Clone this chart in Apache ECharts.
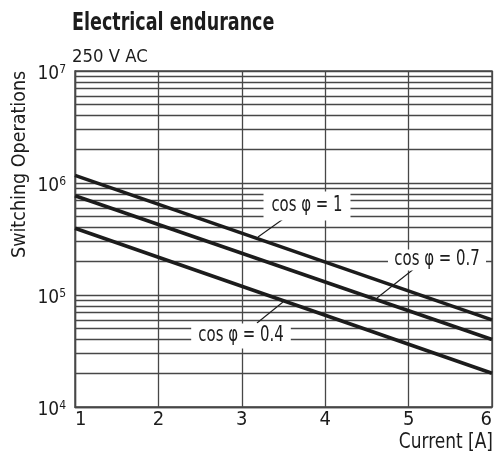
<!DOCTYPE html>
<html>
<head>
<meta charset="utf-8">
<script src="https://cdn.jsdelivr.net/npm/echarts@6/dist/echarts.min.js"></script>
<style>
html,body{margin:0;padding:0;background:#fff;}
#chart{width:496px;height:459px;}
</style>
</head>
<body>
<div id="chart"></div>
<script>
// ---- data ----
var titleText = 'Electrical endurance';
var subtitleText = '250 V AC';
var xAxisName = 'Current [A]';
var yAxisName = 'Switching Operations';
var xTicks = [1, 2, 3, 4, 5, 6];
var seriesNames = ['cos φ = 1', 'cos φ = 0.7', 'cos φ = 0.4'];
var currentA = [1, 6];
var opsCos10 = [1.17e6, 6.0e4];
var opsCos07 = [7.7e5, 4.0e4];
var opsCos04 = [3.95e5, 2.0e4];
var yTickValues = [1e4, 1e5, 1e6, 1e7];
var minorMantissas = [2, 3, 4, 5, 6, 7, 8, 9];
var decades = [1e4, 1e5, 1e6];

var FONT = "'DejaVu Sans Condensed','DejaVu Sans',sans-serif";
var GRID = '#474747';
var INK = '#1c1c1c';

function pairs(xs, ys) { return xs.map(function (x, i) { return [x, ys[i]]; }); }

var minorLines = [];
decades.forEach(function (d) {
  minorMantissas.forEach(function (m) { minorLines.push({ yAxis: m * d }); });
});

var chart = echarts.init(document.getElementById('chart'), null, { renderer: 'canvas' });

function annot(text, x, y, pad) {
  return { type: 'text', z: 60, x: x, y: y, scaleX: 0.79,
    style: { text: text, fontFamily: FONT, fontSize: 21, fill: INK, align: 'center', verticalAlign: 'middle',
      backgroundColor: '#fff', padding: pad } };
}

var option = {
  backgroundColor: '#fff',
  animation: false,
  grid: {
    left: 75, right: 4, top: 71, bottom: 52,
    show: true, borderColor: GRID, borderWidth: 1.4, backgroundColor: 'transparent'
  },
  xAxis: {
    type: 'value', min: 1, max: 6, interval: 1,
    axisLine: { show: true, lineStyle: { color: GRID, width: 1.4 } },
    axisTick: { show: false },
    axisLabel: {
      fontFamily: FONT, fontSize: 20, color: INK, margin: 3,
      alignMinLabel: 'left', alignMaxLabel: 'right',
      customValues: xTicks
    },
    splitLine: { show: true, lineStyle: { color: GRID, width: 1.3 } }
  },
  yAxis: {
    type: 'log', logBase: 10, min: 1e4, max: 1e7,
    axisLine: { show: true, lineStyle: { color: GRID, width: 1.4 } },
    axisTick: { show: false },
    axisLabel: {
      margin: 9,
      customValues: yTickValues,
      padding: [6, 0, 0, 0],
      formatter: function (v) {
        var e = Math.round(Math.log(v) / Math.LN10);
        return '{b|10}{s|' + e + '}';
      },
      rich: {
        b: { fontFamily: FONT, fontSize: 19, color: INK },
        s: { fontFamily: FONT, fontSize: 12, color: INK, verticalAlign: 'top', padding: [0, 0, 8, 0] }
      }
    },
    splitLine: { show: true, lineStyle: { color: GRID, width: 1.3 } }
  },
  series: [
    {
      name: seriesNames[0], type: 'line', z: 3, symbol: 'none',
      lineStyle: { color: INK, width: 3.6 },
      data: pairs(currentA, opsCos10),
      markLine: {
        silent: true, symbol: 'none', z: 1, animation: false,
        label: { show: false },
        lineStyle: { color: GRID, width: 1.3, type: 'solid' },
        data: minorLines
      }
    },
    {
      name: seriesNames[1], type: 'line', z: 3, symbol: 'none',
      lineStyle: { color: INK, width: 3.6 },
      data: pairs(currentA, opsCos07)
    },
    {
      name: seriesNames[2], type: 'line', z: 3, symbol: 'none',
      lineStyle: { color: INK, width: 3.6 },
      data: pairs(currentA, opsCos04)
    }
  ],
  graphic: [
    { type: 'text', x: 72, y: 11, scaleX: 0.78,
      style: { text: titleText, fontFamily: FONT, fontSize: 25, fontWeight: 'bold', fill: INK, align: 'left', verticalAlign: 'top' } },
    { type: 'text', x: 72, y: 48, scaleX: 1.02,
      style: { text: subtitleText, fontFamily: FONT, fontSize: 18, fill: INK, align: 'left', verticalAlign: 'top' } },
    { type: 'text', x: 20, y: 258, rotation: Math.PI / 2,
      style: { text: yAxisName, fontFamily: FONT, fontSize: 19.5, fill: INK, align: 'left', verticalAlign: 'middle' } },
    { type: 'text', x: 493, y: 431, scaleX: 0.86,
      style: { text: xAxisName, fontFamily: FONT, fontSize: 22, fill: INK, align: 'right', verticalAlign: 'top' } },
    // annotation leader lines
    { type: 'line', z: 50, shape: { x1: 258, y1: 237, x2: 286, y2: 217 }, style: { stroke: INK, lineWidth: 1.1 } },
    { type: 'line', z: 50, shape: { x1: 377, y1: 298, x2: 415, y2: 268 }, style: { stroke: INK, lineWidth: 1.1 } },
    { type: 'line', z: 50, shape: { x1: 257, y1: 323, x2: 283, y2: 302 }, style: { stroke: INK, lineWidth: 1.1 } },
    // annotation labels
    annot(seriesNames[0], 307, 206, [4, 10, 4, 10]),
    annot(seriesNames[1], 437, 260, [0, 8, 0, 8]),
    annot(seriesNames[2], 241, 336, [2, 9, 2, 9])
  ]
};
chart.setOption(option);
</script>
</body>
</html>
